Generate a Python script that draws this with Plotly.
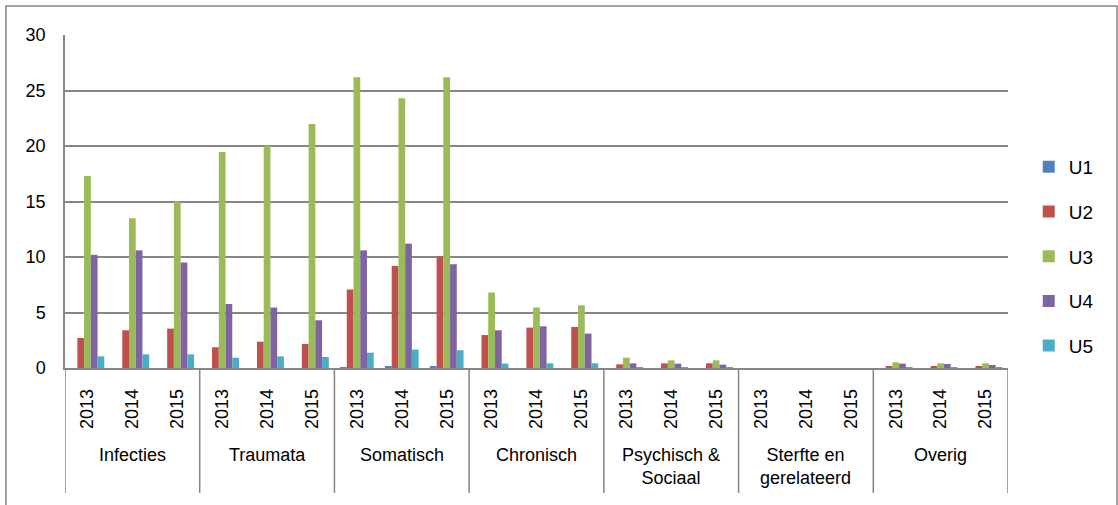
import plotly.graph_objects as go

groups = ["Infecties", "Traumata", "Somatisch", "Chronisch",
          "Psychisch &<br>Sociaal", "Sterfte en<br>gerelateerd", "Overig"]
years = ["2013", "2014", "2015"]

# one value per group/year, in the order of groups x years
u1 = [0, 0, 0,  0, 0, 0,  0.05, 0.15, 0.15,  0, 0, 0,  0, 0, 0,  0, 0, 0,  0, 0, 0]
u2 = [2.7, 3.4, 3.55,  1.87, 2.37, 2.17,  7.07, 9.2, 10.05,  2.97, 3.64, 3.7,
      0.33, 0.42, 0.42,  0, 0, 0,  0.12, 0.15, 0.15]
u3 = [17.3, 13.5, 15.0,  19.45, 20.0, 21.98,  26.2, 24.3, 26.2,  6.8, 5.45, 5.65,
      0.93, 0.69, 0.69,  0, 0, 0,  0.51, 0.42, 0.42]
u4 = [10.2, 10.6, 9.5,  5.77, 5.45, 4.3,  10.6, 11.2, 9.35,  3.4, 3.76, 3.1,
      0.42, 0.39, 0.3,  0, 0, 0,  0.39, 0.36, 0.27]
u5 = [1.05, 1.23, 1.23,  0.93, 1.05, 1.0,  1.38, 1.66, 1.6,  0.4, 0.42, 0.42,
      0.05, 0.05, 0.05,  0, 0, 0,  0.03, 0.03, 0.03]

series = [("U1", u1, "#4F81BD"), ("U2", u2, "#C0504D"), ("U3", u3, "#9BBB59"),
          ("U4", u4, "#8064A2"), ("U5", u5, "#4BACC6")]

cats = [f"{g}|{y}" for g in groups for y in years]
year_labels = [y for g in groups for y in years]

fig = go.Figure()
for name, vals, col in series:
    fig.add_trace(go.Bar(x=cats, y=vals, name=name, legendgroup=name,
                         marker=dict(color=col, line=dict(width=0))))

grid = "#868686"
font = "Liberation Sans, Arial, sans-serif"

# group dividers and labels below the axis
shapes = []
annotations = []
for i, g in enumerate(groups):
    shapes.append(dict(type="line", xref="x", yref="paper", x0=i * 3 - 0.5, x1=i * 3 - 0.5,
                       y0=0, y1=-0.375, line=dict(color=grid, width=1.5)))
    annotations.append(dict(xref="x", yref="paper", x=cats[i * 3 + 1], y=-0.225,
                            yanchor="top", text=g, showarrow=False,
                            font=dict(size=18, color="black", family=font)))
shapes.append(dict(type="line", xref="x", yref="paper", x0=len(cats) - 0.5, x1=len(cats) - 0.5,
                   y0=0, y1=-0.375, line=dict(color=grid, width=1.5)))
# chart frame
shapes.append(dict(type="rect", xref="paper", yref="paper", x0=-0.0626, x1=1.1156,
                   y0=-0.45, y1=1.087, line=dict(color=grid, width=1.5)))

fig.update_layout(
    width=1118, height=505,
    margin=dict(l=65, r=110, t=35, b=137),
    plot_bgcolor="white", paper_bgcolor="white",
    font=dict(family=font, size=18, color="black"),
    barmode="group", bargap=0.25, bargroupgap=0,
    showlegend=True,
    legend=dict(x=1.022, xanchor="left", y=0.335, yanchor="middle",
                traceorder="grouped", tracegroupgap=17,
                font=dict(size=19, family=font, color="black")),
    shapes=shapes, annotations=annotations,
)
fig.update_xaxes(type="category", tickvals=cats, ticktext=year_labels, tickangle=-90,
                 ticklabelstandoff=12, ticks="", showgrid=False,
                 showline=True, linecolor=grid, linewidth=1.5,
                 range=[-0.5, len(cats) - 0.5],
                 tickfont=dict(size=18, family=font, color="black"))
fig.update_yaxes(range=[0, 30], dtick=5, showgrid=True, gridcolor=grid, gridwidth=1.5,
                 showline=True, linecolor=grid, linewidth=1.5, zeroline=False,
                 ticks="", ticklabelstandoff=14,
                 tickfont=dict(size=18, family=font, color="black"))

fig.write_html("out.html", config={"displayModeBar": False},
               post_script="document.body.style.margin='0';")
